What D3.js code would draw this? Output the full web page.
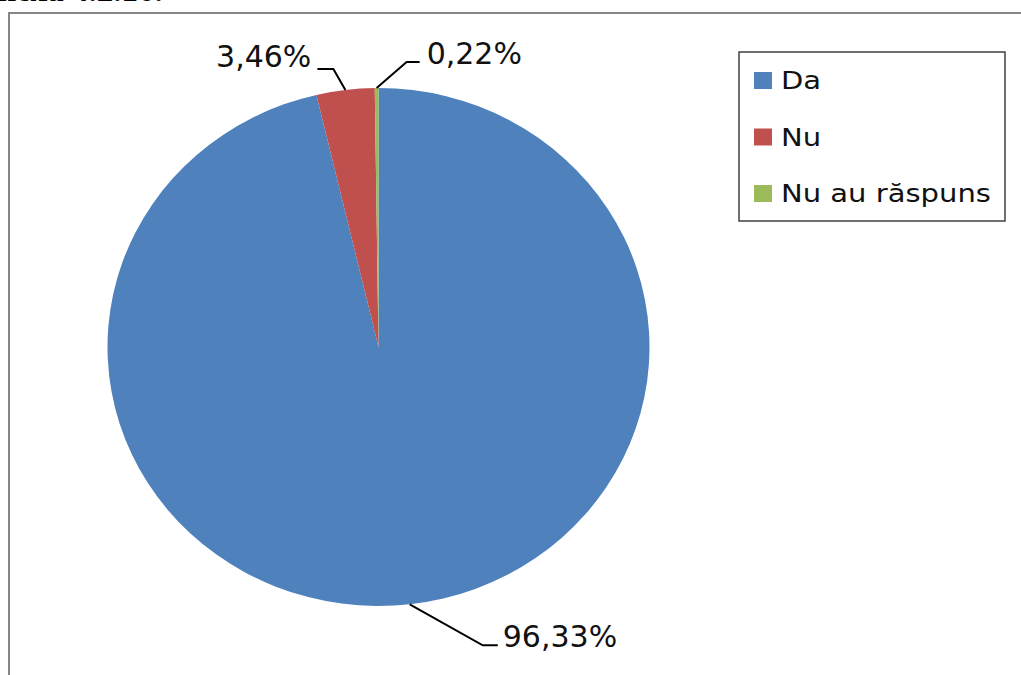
<!DOCTYPE html>
<html lang="ro">
<head>
<meta charset="utf-8">
<script src="https://d3js.org/d3.v7.min.js"></script>
<style>
  body { margin: 0; background: #fff; }
  svg { display: block; }
</style>
</head>
<body>
<svg width="1021" height="675"></svg>
<script>
// date din grafic
var categories = ["Da", "Nu", "Nu au răspuns"];
var values = [96.33, 3.46, 0.22];
var labels = ["96,33%", "3,46%", "0,22%"];
var colors = ["#4F81BD", "#C0504D", "#9BBB59"];

var svg = d3.select("svg");

// titlul taiat de sus
svg.append("text")
  .attr("x", -26).attr("y", 1)
  .attr("font-family", "Liberation Serif, serif")
  .attr("font-weight", "bold")
  .attr("font-size", 33)
  .text("Anexa 4.2.16.");

// chenarul graficului
svg.append("rect")
  .attr("x", 9).attr("y", 13)
  .attr("width", 1040).attr("height", 700)
  .attr("fill", "#fff")
  .attr("stroke", "#868686")
  .attr("stroke-width", 2);

var cx = 378.5, cy = 347, ry = 259, rx = 271;
var sx = rx / ry;

var pie = d3.pie().sort(null).value(function(d) { return d; });
var arcs = pie(values);
var arc = d3.arc().innerRadius(0).outerRadius(ry);

var g = svg.append("g")
  .attr("transform", "translate(" + cx + "," + cy + ") scale(" + sx + ",1)");

g.selectAll("path")
  .data(arcs)
  .enter().append("path")
  .attr("d", arc)
  .attr("fill", function(d, i) { return colors[i]; });

// etichete cu linii de legatura (offseturi fata de punctul de pe margine)
var layout = [
  { elbow: [73, 41], end: [88, 41], tx: 93, ty: 43, anchor: "start" },
  { elbow: [-12, -21], end: [-28, -21], tx: -34, ty: -23, anchor: "end" },
  { elbow: [30, -26], end: [43, -26], tx: 50, ty: -24, anchor: "start" }
];

arcs.forEach(function(d, i) {
  var a = (d.startAngle + d.endAngle) / 2;
  var px = cx + rx * Math.sin(a);
  var py = cy - ry * Math.cos(a);
  var L = layout[i];
  svg.append("path")
    .attr("d", d3.line()([[px, py], [px + L.elbow[0], py + L.elbow[1]], [px + L.end[0], py + L.end[1]]]))
    .attr("fill", "none")
    .attr("stroke", "#000")
    .attr("stroke-width", 2);
  svg.append("text")
    .attr("x", px + L.tx)
    .attr("y", py + L.ty)
    .attr("text-anchor", L.anchor)
    .attr("font-family", "DejaVu Sans, sans-serif")
    .attr("font-size", 30)
    .attr("fill", "#111")
    .text(labels[i]);
});

// legenda
var leg = svg.append("g").attr("transform", "translate(739,52)");
leg.append("rect")
  .attr("width", 266).attr("height", 169)
  .attr("fill", "#fff")
  .attr("stroke", "#404040")
  .attr("stroke-width", 1.5);

var ly = d3.scalePoint().domain(categories).range([28, 141]);

var item = leg.selectAll("g.item")
  .data(categories)
  .enter().append("g")
  .attr("class", "item")
  .attr("transform", function(d) { return "translate(0," + ly(d) + ")"; });

item.append("rect")
  .attr("x", 15).attr("y", -8)
  .attr("width", 18).attr("height", 17)
  .attr("fill", function(d, i) { return colors[i]; });

item.append("text")
  .attr("transform", "translate(42,9) scale(1.21,1)")
  .attr("font-family", "DejaVu Sans, sans-serif")
  .attr("font-size", 24)
  .attr("fill", "#111")
  .text(function(d) { return d; });
</script>
</body>
</html>
